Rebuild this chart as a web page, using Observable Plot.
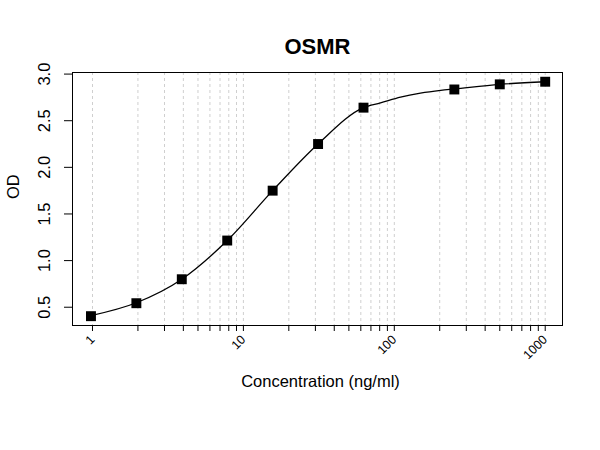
<!DOCTYPE html>
<html>
<head>
<meta charset="utf-8">
<script src="https://cdn.jsdelivr.net/npm/d3@7"></script>
<script src="https://cdn.jsdelivr.net/npm/@observablehq/plot@0.6"></script>
<style>
  html, body { margin: 0; padding: 0; background: #fff; }
  #chart svg { display: block; font-family: "Liberation Sans", Arial, sans-serif; }
</style>
</head>
<body>
<div id="chart"></div>
<script>
const concentration = [0.977, 1.953, 3.906, 7.8125, 15.625, 31.25, 62.5, 250, 500, 1000];
const od = [0.404, 0.543, 0.800, 1.215, 1.750, 2.250, 2.640, 2.835, 2.890, 2.918];

// Fitted curve (points plus readings between 62.5 and 250)
const curveConc = [0.977, 1.953, 3.906, 7.8125, 15.625, 31.25, 62.5, 81, 110, 149, 203, 250, 500, 1000];
const curveOD = [0.410, 0.548, 0.800, 1.215, 1.750, 2.250, 2.640, 2.690, 2.752, 2.795, 2.825, 2.840, 2.890, 2.918];

const xMinorTicks = [1, 2, 3, 4, 5, 6, 7, 8, 9,
                     10, 20, 30, 40, 50, 60, 70, 80, 90,
                     100, 200, 300, 400, 500, 600, 700, 800, 900, 1000];
const xTickLabels = [1, 10, 100, 1000];
const yTicks = [0.5, 1.0, 1.5, 2.0, 2.5, 3.0];

const title = "OSMR";
const xLabel = "Concentration (ng/ml)";
const yLabel = "OD";

const data = concentration.map((c, i) => ({conc: c, od: od[i]}));
const fit = curveConc.map((c, i) => ({conc: c, od: curveOD[i]}));

const chart = Plot.plot({
  width: 600,
  height: 450,
  marginLeft: 72,
  marginRight: 38,
  marginTop: 72,
  marginBottom: 125,
  style: {fontFamily: "'Liberation Sans', Arial, sans-serif", background: "#fff"},
  x: {type: "log", domain: [0.737, 1302]},
  y: {domain: [0.304, 3.017]},
  marks: [
    Plot.ruleX(xMinorTicks, {stroke: "#cfcfcf", strokeWidth: 1, strokeDasharray: "3,3"}),
    Plot.frame({stroke: "#000", strokeWidth: 1}),
    Plot.axisX(xMinorTicks, {tickSize: 6, tickFormat: () => "", label: null, stroke: "#000"}),
    Plot.axisX(xTickLabels, {tickSize: 0, tickRotate: -45, tickPadding: 12, fontSize: 12.5,
                             tickFormat: d => String(d), label: null, fill: "#000"}),
    Plot.axisY(yTicks, {tickSize: 8, tickFormat: () => "", label: null, stroke: "#000"}),
    Plot.text(yTicks, {y: d => d, frameAnchor: "left", dx: -28, rotate: -90,
                       text: d => d.toFixed(1), textAnchor: "middle", lineAnchor: "middle",
                       fontSize: 16.5, fill: "#000"}),
    Plot.line(fit, {x: "conc", y: "od", curve: "monotone-x", stroke: "#000", strokeWidth: 1.3}),
    Plot.dot(data, {x: "conc", y: "od", symbol: "square", r: 5.6, fill: "#000", stroke: "none"}),
    Plot.text([title], {frameAnchor: "top", dy: -34, fontSize: 22, fontWeight: "bold", fill: "#000"}),
    Plot.text([xLabel], {frameAnchor: "bottom", dx: 3, dy: 61, fontSize: 16.5, fill: "#000"}),
    Plot.text([yLabel], {frameAnchor: "left", dx: -59, rotate: -90, fontSize: 16.5, fill: "#000"})
  ]
});

document.getElementById("chart").appendChild(chart);
</script>
</body>
</html>
